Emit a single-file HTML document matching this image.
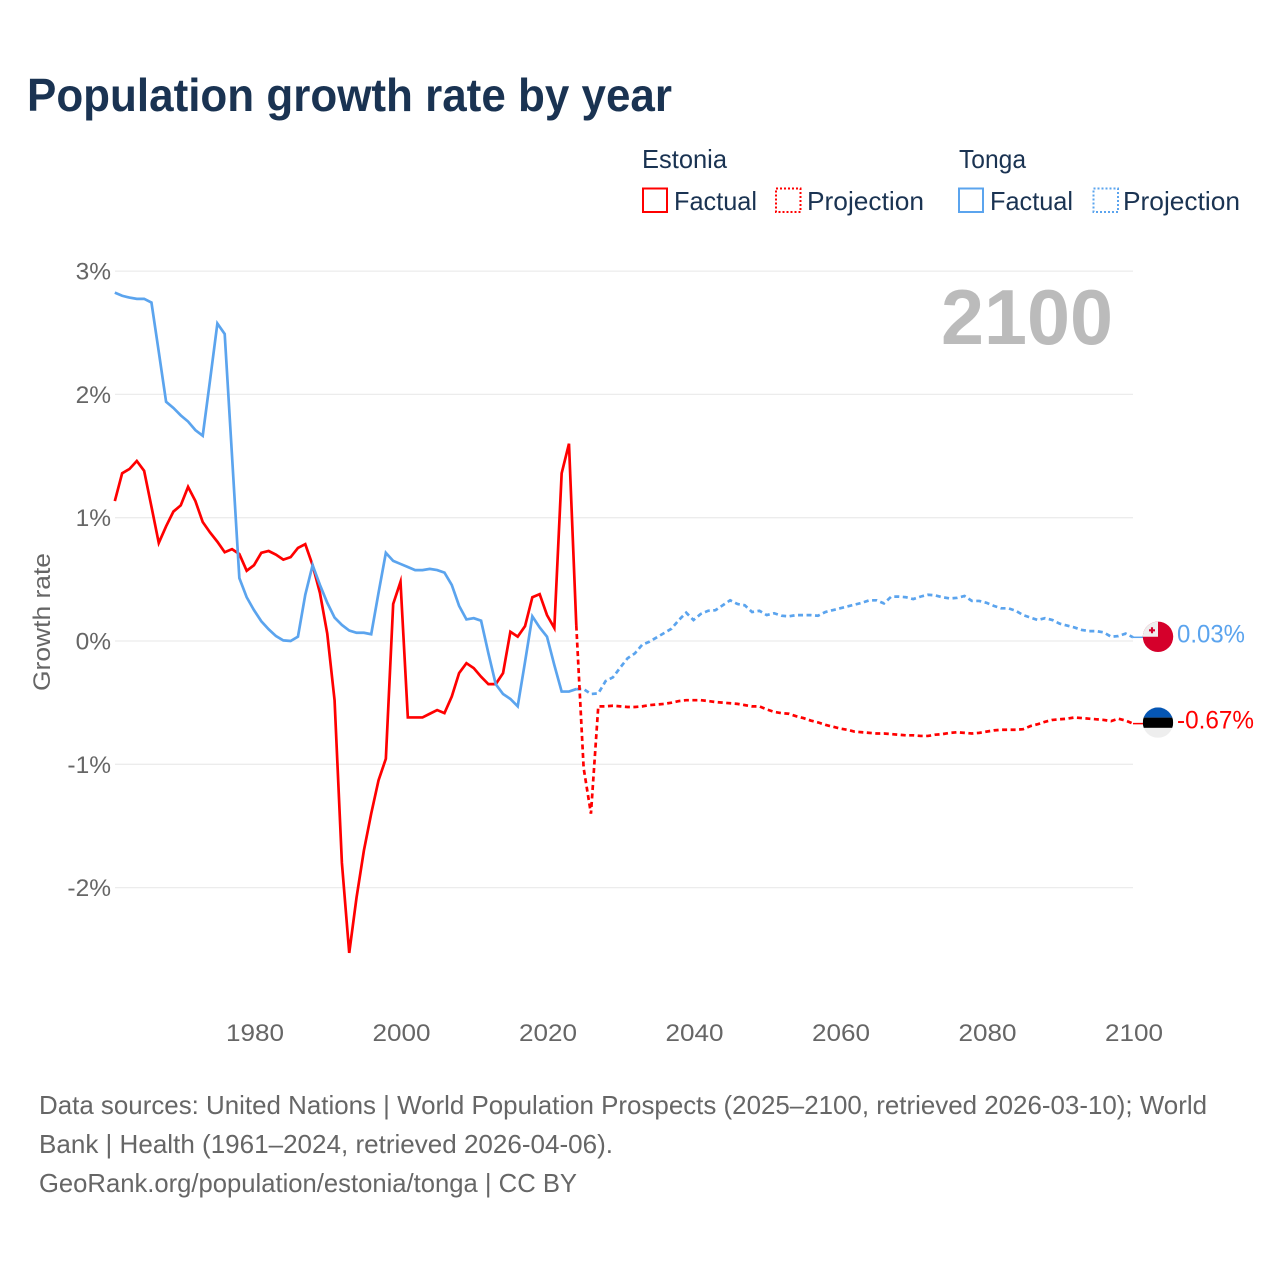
<!DOCTYPE html>
<html lang="en">
<head>
<meta charset="utf-8">
<title>Population growth rate by year</title>
<style>
  html, body { margin: 0; padding: 0; background: #fff; }
  svg { display: block; }
  text { font-family: "Liberation Sans", sans-serif; }
</style>
</head>
<body>
<svg id="chart" xmlns="http://www.w3.org/2000/svg" width="1280" height="1280" viewBox="0 0 1280 1280">
  <rect width="1280" height="1280" fill="#fff"/>
  <text x="27" y="111" font-size="46" font-weight="700" fill="#1a3352" textLength="645" lengthAdjust="spacingAndGlyphs">Population growth rate by year</text>

  <g font-size="26" fill="#1a3352">
    <text x="642" y="168" textLength="85" lengthAdjust="spacingAndGlyphs">Estonia</text>
    <text x="959" y="168" textLength="67" lengthAdjust="spacingAndGlyphs">Tonga</text>
    <rect x="643" y="188.500" width="24" height="23.500" fill="none" stroke="#ff0000" stroke-width="2"/>
    <text x="674" y="210" textLength="83" lengthAdjust="spacingAndGlyphs">Factual</text>
    <rect x="776" y="188.500" width="24.500" height="23.500" fill="none" stroke="#ff0000" stroke-width="2" stroke-dasharray="2 2"/>
    <text x="807" y="210" textLength="117" lengthAdjust="spacingAndGlyphs">Projection</text>
    <rect x="959" y="188.500" width="24" height="23.500" fill="none" stroke="#5ba4ee" stroke-width="2"/>
    <text x="990" y="210" textLength="83" lengthAdjust="spacingAndGlyphs">Factual</text>
    <rect x="1093.500" y="188.500" width="24.500" height="23.500" fill="none" stroke="#5ba4ee" stroke-width="2" stroke-dasharray="2 2"/>
    <text x="1123" y="210" textLength="117" lengthAdjust="spacingAndGlyphs">Projection</text>
  </g>

  <g id="grid"></g>
  <g id="yticks"></g>
  <g id="xticks"></g>
  <text transform="translate(50,622) rotate(-90)" text-anchor="middle" font-size="24.500" fill="#666" textLength="138" lengthAdjust="spacingAndGlyphs">Growth rate</text>

  <text x="941" y="344" font-size="78" font-weight="700" fill="#bbbbbb" textLength="172" lengthAdjust="spacingAndGlyphs">2100</text>

  <g id="series"></g>

  <g id="tonga-flag"></g>
  <g id="estonia-flag"></g>
  <g id="endlabels"></g>

  <g font-size="26" fill="#666">
    <text x="39" y="1114" textLength="1168" lengthAdjust="spacingAndGlyphs">Data sources: United Nations | World Population Prospects (2025–2100, retrieved 2026-03-10); World</text>
    <text x="39" y="1153" textLength="574" lengthAdjust="spacingAndGlyphs">Bank | Health (1961–2024, retrieved 2026-04-06).</text>
    <text x="39" y="1192" textLength="538" lengthAdjust="spacingAndGlyphs">GeoRank.org/population/estonia/tonga | CC BY</text>
  </g>
</svg>
<script>
const factualStartYear = 1961;
const projectionStartYear = 2024;
const yTicks = [3, 2, 1, 0, -1, -2];
const yTickLabels = ['3%', '2%', '1%', '0%', '-1%', '-2%'];
const xTicks = [1980, 2000, 2020, 2040, 2060, 2080, 2100];
const xTickLabels = ['1980', '2000', '2020', '2040', '2060', '2080', '2100'];

const estoniaFactual = [1.135,1.36,1.395,1.46,1.38,1.09,0.795,0.93,1.05,1.10,1.25,1.135,0.965,0.88,0.805,0.72,0.745,0.705,0.57,0.615,0.715,0.73,0.70,0.66,0.68,0.755,0.785,0.615,0.39,0.06,-0.48,-1.80,-2.53,-2.08,-1.70,-1.40,-1.13,-0.955,0.30,0.48,-0.62,-0.62,-0.62,-0.59,-0.56,-0.585,-0.45,-0.26,-0.18,-0.22,-0.29,-0.35,-0.35,-0.26,0.075,0.035,0.12,0.355,0.38,0.21,0.105,1.36,1.60,0.125];
const estoniaProjection = [0.125,-1.03,-1.40,-0.53,-0.53,-0.525,-0.53,-0.535,-0.535,-0.53,-0.52,-0.515,-0.51,-0.50,-0.487,-0.48,-0.48,-0.48,-0.487,-0.495,-0.50,-0.505,-0.51,-0.52,-0.53,-0.53,-0.555,-0.575,-0.585,-0.59,-0.61,-0.625,-0.645,-0.66,-0.68,-0.695,-0.71,-0.72,-0.735,-0.74,-0.745,-0.75,-0.75,-0.755,-0.76,-0.765,-0.765,-0.77,-0.77,-0.76,-0.755,-0.745,-0.74,-0.745,-0.75,-0.745,-0.735,-0.725,-0.72,-0.72,-0.72,-0.715,-0.69,-0.675,-0.655,-0.64,-0.635,-0.63,-0.62,-0.625,-0.63,-0.635,-0.64,-0.65,-0.63,-0.645,-0.67];
const tongaFactual = [2.825,2.80,2.785,2.775,2.775,2.745,2.345,1.94,1.89,1.83,1.78,1.71,1.665,2.115,2.575,2.49,1.50,0.51,0.355,0.25,0.16,0.095,0.04,0.005,0.0,0.035,0.375,0.615,0.455,0.31,0.19,0.13,0.085,0.067,0.067,0.055,0.39,0.715,0.65,0.625,0.60,0.575,0.575,0.585,0.575,0.555,0.455,0.285,0.175,0.185,0.165,-0.10,-0.35,-0.43,-0.47,-0.53,-0.17,0.20,0.11,0.035,-0.195,-0.41,-0.41,-0.39];
const tongaProjection = [-0.39,-0.39,-0.43,-0.425,-0.325,-0.295,-0.215,-0.14,-0.10,-0.03,-0.005,0.03,0.065,0.10,0.17,0.23,0.17,0.22,0.245,0.25,0.29,0.33,0.30,0.29,0.235,0.245,0.21,0.225,0.205,0.20,0.21,0.21,0.21,0.205,0.235,0.25,0.265,0.28,0.295,0.31,0.33,0.33,0.305,0.36,0.36,0.355,0.34,0.36,0.375,0.37,0.355,0.345,0.35,0.365,0.325,0.325,0.31,0.285,0.265,0.265,0.245,0.21,0.19,0.17,0.185,0.17,0.14,0.125,0.11,0.09,0.08,0.08,0.07,0.035,0.04,0.06,0.03];
const endLabels = ['0.03%', '-0.67%'];

const SVG_NS = 'http://www.w3.org/2000/svg';
function xScale(year) { return 254 + (year - 1980) * 7.325; }
function yScale(v) { return 641 - v * 123.3; }
function mk(tag, parent, attrs) {
  const e = document.createElementNS(SVG_NS, tag);
  for (const k in attrs) e.setAttribute(k, attrs[k]);
  parent.appendChild(e);
  return e;
}
function pathFor(values, startYear) {
  return values.map(function (v, i) {
    return (i ? 'L' : 'M') + xScale(startYear + i).toFixed(2) + ' ' + yScale(v).toFixed(2);
  }).join(' ');
}

const grid = document.getElementById('grid');
const yticks = document.getElementById('yticks');
const xticks = document.getElementById('xticks');
yTicks.forEach(function (t, i) {
  const line = mk('line', grid, { x1: 115, x2: 1133, y1: yScale(t), y2: yScale(t), stroke: '#ececec', 'stroke-width': 1.3 });
  
  
  const label = mk('text', yticks, { x: 111, y: yScale(t) + 8.5, 'text-anchor': 'end', 'font-size': 24.5, fill: '#666' });
  
  
  label.textContent = yTickLabels[i];
});
xTicks.forEach(function (t, i) {
  const label = mk('text', xticks, { x: xScale(t) - 28, y: 1041, 'font-size': 24.5, fill: '#666', textLength: 58, lengthAdjust: 'spacingAndGlyphs' });
  
  
  label.textContent = xTickLabels[i];
});

const series = document.getElementById('series');
const lineAttrs = { fill: 'none', 'stroke-width': 2.7, 'stroke-linejoin': 'miter', 'stroke-miterlimit': 6 };

const tongaProjLine = mk('path', series, Object.assign({ d: pathFor(tongaProjection, projectionStartYear), stroke: '#5ba4ee', 'stroke-dasharray': '5 3.5' }, lineAttrs));



const estoniaProjLine = mk('path', series, Object.assign({ d: pathFor(estoniaProjection, projectionStartYear), stroke: '#ff0000', 'stroke-dasharray': '5 3.5' }, lineAttrs));



const estoniaLine = mk('path', series, Object.assign({ d: pathFor(estoniaFactual, factualStartYear), stroke: '#ff0000' }, lineAttrs));



const tongaLine = mk('path', series, Object.assign({ d: pathFor(tongaFactual, factualStartYear), stroke: '#5ba4ee' }, lineAttrs));



const lastYear = projectionStartYear + tongaProjection.length - 1;
const tongaY = yScale(tongaProjection[tongaProjection.length - 1]);
const estoniaY = yScale(estoniaProjection[estoniaProjection.length - 1]);

const c1 = mk('line', series, { x1: xScale(lastYear), x2: 1146, y1: tongaY, y2: tongaY, stroke: '#5ba4ee', 'stroke-width': 1.5 });


const c2 = mk('line', series, { x1: xScale(lastYear), x2: 1146, y1: estoniaY, y2: estoniaY, stroke: '#ff0000', 'stroke-width': 1.5 });



const cx = 1158, r = 15.2;
const flagY1 = tongaY - 0.5;
const flagY2 = estoniaY - 1;
/* Tonga flag: red disc, pale canton with a small cross */
const tf = document.getElementById('tonga-flag');
const tDisc = mk('circle', tf, { cx: cx, cy: flagY1, r: r, fill: '#d5002b' });


const tCanton = mk('path', tf, { d: 'M' + cx + ' ' + flagY1 + ' H' + (cx - r) + ' A' + r + ' ' + r + ' 0 0 1 ' + cx + ' ' + (flagY1 - r) + ' Z', fill: '#eeeeee' });


const tCross = mk('path', tf, { d: 'M' + (cx - 9) + ' ' + (flagY1 - 6.5) + ' h6 M' + (cx - 6) + ' ' + (flagY1 - 9.5) + ' v6', stroke: '#d5002b', 'stroke-width': 2.1, fill: 'none' });



/* Estonia flag: blue, black and pale bands clipped to a circle */
const ef = document.getElementById('estonia-flag');
const cp = mk('clipPath', ef, { id: 'estonia-clip' });
mk('circle', cp, { cx: cx, cy: flagY2, r: r });
const eTop = flagY2 - r;
const eBands = mk('g', ef, { 'clip-path': 'url(#estonia-clip)' });


mk('rect', eBands, { x: cx - r, y: eTop, width: 2 * r, height: 2 * r, fill: '#eeeeee' });
mk('rect', eBands, { x: cx - r, y: eTop, width: 2 * r, height: 10.2, fill: '#0556b4' });
mk('rect', eBands, { x: cx - r, y: eTop + 10.2, width: 2 * r, height: 10.2, fill: '#000000' });

const labels = document.getElementById('endlabels');
const l1 = mk('text', labels, { x: 1177, y: tongaY + 5, 'font-size': 25, fill: '#5ba4ee', textLength: 68, lengthAdjust: 'spacingAndGlyphs' });


l1.textContent = endLabels[0];
const l2 = mk('text', labels, { x: 1177, y: estoniaY + 5, 'font-size': 25, fill: '#ff0000', textLength: 77, lengthAdjust: 'spacingAndGlyphs' });


l2.textContent = endLabels[1];
</script>
</body>
</html>
